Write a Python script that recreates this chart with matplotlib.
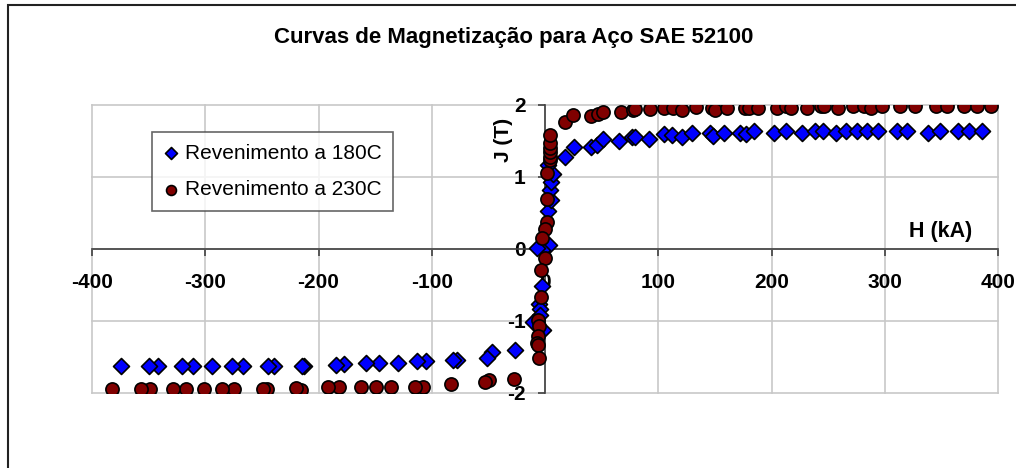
import matplotlib
matplotlib.use("Agg")
import matplotlib.pyplot as plt
from matplotlib.patches import Rectangle

plt.rcParams['font.family'] = ['Liberation Sans', 'DejaVu Sans']

title = "Curvas de Magnetização para Aço SAE 52100"
label_180 = "Revenimento a 180C"
label_230 = "Revenimento a 230C"
x_label = "H (kA)"
y_label = "J (T)"
x_ticks = [-400, -300, -200, -100, 0, 100, 200, 300, 400]
y_ticks = [-2, -1, 0, 1, 2]

# Revenimento a 180C
h_180 = [2.9, 5.7, 4.6, 5.2, 7.4, 2.9, 17.8, 25.4, 40.5, 46.3, 50.8, 65.7, 76.5, 79.5,
         92.0, 104.7, 112.4, 121.0, 129.5, 146.0, 148.6, 158.1, 172.2, 177.2, 184.5,
         202.2, 212.5, 226.7, 238.4, 245.2, 256.7, 265.5, 275.8, 284.1, 293.8, 310.5,
         320.0, 337.9, 348.8, 364.4, 374.7, 385.6,
         3.5, -2.9, -7.3,
         -2.9, -5.0, -4.4, -4.4, -10.3, -2.0, -26.5, -46.5, -51.5, -77.4, -81.0,
         -105.1, -112.8, -130.1, -146.5, -158.2, -177.5, -184.8, -212.5, -214.5,
         -239.0, -244.9, -266.4, -276.7, -294.0, -310.5, -320.8, -342.0, -349.7, -374.7]
j_180 = [0.53, 0.68, 0.82, 0.93, 1.04, 1.16, 1.28, 1.41, 1.42, 1.44, 1.53, 1.50, 1.56, 1.55,
         1.53, 1.60, 1.59, 1.55, 1.61, 1.61, 1.57, 1.61, 1.61, 1.60, 1.64,
         1.61, 1.64, 1.61, 1.64, 1.64, 1.61, 1.64, 1.64, 1.64, 1.64, 1.64,
         1.64, 1.61, 1.64, 1.64, 1.64, 1.64,
         0.05, -0.02, 0.01,
         -0.52, -0.77, -0.84, -0.91, -1.01, -1.12, -1.40, -1.43, -1.52, -1.54, -1.54,
         -1.56, -1.56, -1.59, -1.59, -1.59, -1.60, -1.61, -1.62, -1.62,
         -1.62, -1.62, -1.62, -1.62, -1.62, -1.62, -1.62, -1.62, -1.62, -1.62]

# Revenimento a 230C
h_230 = [1.7, 0.0, -2.3, 1.7, 1.7, 4.6, 4.6, 4.6, 4.6, 4.0, 4.0, 17.7, 24.4, 40.4, 46.5,
         50.9, 66.8, 78.0, 79.5, 92.5, 104.8, 112.7, 121.3, 133.0, 147.2, 150.1, 160.4,
         176.6, 180.4, 188.4, 204.6, 212.8, 216.9, 231.1, 243.4, 246.4, 259.0, 271.7,
         281.7, 287.6, 297.9, 313.5, 326.7, 345.0, 354.7, 370.2, 381.2, 393.6,
         0.0, -3.8, -3.8, -5.9, -5.0, -5.9, -7.3, -5.9, -5.0, -27.4, -49.2, -53.0, -83.0,
         -108.0, -114.8, -136.3, -149.3, -162.8, -181.9, -191.3, -215.7, -219.9, -245.2,
         -249.3, -274.3, -284.8, -300.8, -317.0, -328.8, -348.8, -357.0, -382.6]
j_230 = [0.38, 0.28, 0.15, 0.70, 1.05, 1.24, 1.28, 1.35, 1.40, 1.47, 1.58, 1.77, 1.86, 1.85, 1.88,
         1.90, 1.90, 1.93, 1.94, 1.94, 1.96, 1.96, 1.93, 1.97, 1.96, 1.93, 1.96,
         1.96, 1.96, 1.96, 1.96, 1.99, 1.96, 1.96, 1.99, 1.99, 1.96, 1.99,
         1.99, 1.96, 1.99, 1.99, 1.99, 1.99, 1.99, 1.99, 1.99, 1.99,
         -0.12, -0.29, -0.66, -0.98, -1.07, -1.21, -1.30, -1.34, -1.52, -1.80, -1.82, -1.85, -1.88,
         -1.91, -1.91, -1.91, -1.91, -1.91, -1.91, -1.91, -1.96, -1.93, -1.95,
         -1.95, -1.95, -1.95, -1.95, -1.95, -1.95, -1.95, -1.95, -1.95]

fig = plt.figure(figsize=(10.16, 4.68), dpi=100)
fig.patch.set_facecolor('white')

# outer chart border
fig.add_artist(Rectangle((8 / 1016, -0.05), 1.2, (468 - 5) / 468 + 0.05,
                         transform=fig.transFigure, fill=False,
                         edgecolor='#222222', linewidth=1.5))

ax = fig.add_axes([92 / 1016, 1 - 393 / 468, 906 / 1016, 288 / 468])
ax.set_xlim(-400, 400)
ax.set_ylim(-2, 2)

ax.scatter(h_180, j_180, marker='D', s=66, facecolor='#0000FF', edgecolor='black',
           linewidth=1.2, zorder=3, label=label_180)
ax.scatter(h_230, j_230, marker='o', s=90, facecolor='#800000', edgecolor='black',
           linewidth=1.2, zorder=3, label=label_230)

ax.grid(True, color='#C8C8C8', linewidth=1.2, zorder=0)
ax.set_axisbelow(True)

for s in ['top', 'right']:
    ax.spines[s].set_visible(False)
ax.spines['left'].set_position(('data', 0))
ax.spines['bottom'].set_position(('data', 0))
for s in ['left', 'bottom']:
    ax.spines[s].set_color('#404040')
    ax.spines[s].set_linewidth(1.2)
    ax.spines[s].set_zorder(2)

ax.set_xticks(x_ticks)
ax.set_yticks(y_ticks)
ax.set_xticklabels([str(t) for t in x_ticks])
ax.set_yticklabels([str(t) for t in y_ticks])
ax.tick_params(axis='x', direction='out', length=5, width=1.2, color='#404040',
               pad=12, labelsize=15)
ax.tick_params(axis='y', direction='out', length=5, width=1.2, color='#404040',
               pad=9, labelsize=15)
for lab in ax.get_xticklabels() + ax.get_yticklabels():
    lab.set_fontweight('bold')
for ln in ax.get_xgridlines() + ax.get_ygridlines():
    ln.set_clip_on(False)

ax.text(-37, 1.51, y_label, rotation=90, ha='center', va='center',
        fontsize=15, fontweight='bold')
ax.text(349, 0.25, x_label, ha='center', va='center', fontsize=15.5, fontweight='bold')

fig.text(514 / 1016, 1 - 38 / 468, title, ha='center', va='center',
         fontsize=16, fontweight='bold')

leg = ax.legend(loc='upper left', bbox_to_anchor=(0.066, 0.906), borderaxespad=0,
                fontsize=15, frameon=True, fancybox=False, handlelength=0.7,
                handletextpad=0.35, borderpad=0.55, labelspacing=0.85,
                scatterpoints=1, markerscale=0.75)
leg.get_frame().set_edgecolor('#404040')
leg.get_frame().set_linewidth(1.2)
leg.set_zorder(5)

fig.savefig('out.png', dpi=100, facecolor='white')
